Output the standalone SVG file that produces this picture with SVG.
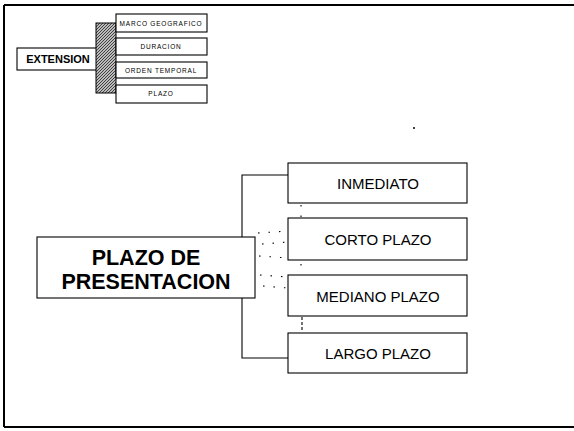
<svg xmlns="http://www.w3.org/2000/svg" width="574" height="431" viewBox="0 0 574 431">
<defs>
<pattern id="hatch" patternUnits="userSpaceOnUse" width="3" height="3">
<rect width="3" height="3" fill="#bbb"/>
<path d="M0,3 L3,0 M-1,1 L1,-1 M2,4 L4,2" stroke="#222" stroke-width="0.8"/>
</pattern>
<style>
.box{fill:#fff;stroke:#000;stroke-width:1.1}
.big{font-family:"Liberation Sans",Arial,sans-serif;font-weight:bold;font-size:21.5px;text-anchor:middle}
.lbl{font-family:"Liberation Sans",Arial,sans-serif;font-size:15px;text-anchor:middle}
.ext{font-family:"Liberation Sans",Arial,sans-serif;font-weight:bold;font-size:11px;text-anchor:middle}
.sm{font-family:"Liberation Sans",Arial,sans-serif;font-size:6.5px;letter-spacing:0.8px;text-anchor:middle}
.con{fill:none;stroke:#000;stroke-width:1.1}
.dot{fill:none;stroke:#000;stroke-width:1.1;stroke-dasharray:1.5 9}
</style>
</defs>
<rect width="574" height="431" fill="#fff"/>
<g id="frame" fill="none" stroke="#000" stroke-width="2">
<path d="M4,5 L574,5"/>
<path d="M4,5 L4,427"/>
<path d="M4,427 L574,427"/>
</g>
<g id="connectors">
<path class="con" d="M288,175 L242,175 L242,358 L288,358"/>
<path class="dot" d="M258,233 L288,231"/>
<path class="dot" d="M262,244 L288,242"/>
<path class="dot" d="M259,256 L288,258"/>
<path class="dot" d="M260,275 L288,277"/>
<path class="dot" d="M263,286 L288,288"/>
<path class="dot" d="M301,205 L301,217"/>
<path class="dot" d="M301,264 L301,274"/>
<path class="con" d="M302,317 L302,332" stroke-dasharray="3 2"/>
</g>
<g id="extension">
<rect class="box" x="17" y="48" width="82" height="22"/>
<text class="ext" x="58" y="63">EXTENSION</text>
</g>
<g id="hatchbar">
<rect x="96" y="23" width="20" height="70" fill="url(#hatch)" stroke="#000" stroke-width="1"/>
</g>
<g id="marco">
<rect class="box" x="116" y="14" width="91" height="18"/>
<text class="sm" x="161" y="25.5">MARCO GEOGRAFICO</text>
</g>
<g id="duracion">
<rect class="box" x="116" y="38" width="91" height="17"/>
<text class="sm" x="161" y="49">DURACION</text>
</g>
<g id="orden">
<rect class="box" x="116" y="62" width="91" height="16"/>
<text class="sm" x="161" y="72.5">ORDEN TEMPORAL</text>
</g>
<g id="plazo-small">
<rect class="box" x="116" y="85" width="91" height="18"/>
<text class="sm" x="161" y="96">PLAZO</text>
</g>
<g id="plazo-presentacion">
<rect class="box" x="37" y="237" width="218" height="61"/>
<text class="big" x="146" y="265">PLAZO DE</text>
<text class="big" x="146" y="289">PRESENTACION</text>
</g>
<g id="inmediato">
<rect class="box" x="288" y="163" width="179" height="40"/>
<text class="lbl" x="378" y="188.5">INMEDIATO</text>
</g>
<g id="corto">
<rect class="box" x="288" y="218" width="179" height="42"/>
<text class="lbl" x="378" y="244.5">CORTO PLAZO</text>
</g>
<g id="mediano">
<rect class="box" x="288" y="275" width="179" height="41"/>
<text class="lbl" x="378" y="301.5">MEDIANO PLAZO</text>
</g>
<g id="largo">
<rect class="box" x="288" y="333" width="179" height="40"/>
<text class="lbl" x="378" y="358.5">LARGO PLAZO</text>
</g>
<circle cx="414" cy="128" r="1" fill="#000"/>
</svg>
